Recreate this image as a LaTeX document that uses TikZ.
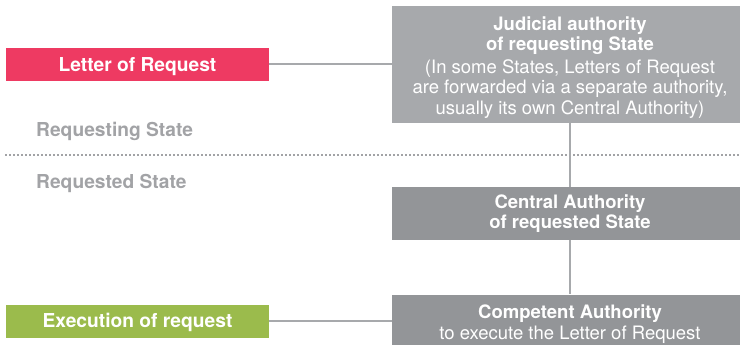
\documentclass[tikz,border=0pt]{standalone}
\usepackage{fontspec}
\setmainfont{TeX Gyre Heros}
\usepackage{xcolor}
\definecolor{lorpink}{HTML}{EE3A62}
\definecolor{execgreen}{HTML}{9BBB4C}
\definecolor{boxlight}{HTML}{A7A9AC}
\definecolor{boxdark}{HTML}{939598}
\definecolor{labelgray}{HTML}{A2A3A6}

\begin{document}
\begin{tikzpicture}[x=1pt,y=-1pt,
    every node/.style={font=\fontsize{18.5}{20.5}\selectfont, text=white, inner sep=0pt},
    side/.style={minimum width=263pt, minimum height=33pt, text height=13.8pt, text depth=0pt,
        font=\fontsize{19.2}{21}\selectfont\bfseries},
    authority/.style={fill=boxdark, minimum width=356pt, minimum height=53pt, align=center},
    statelabel/.style={anchor=base west, text=labelgray, font=\fontsize{19.2}{21}\selectfont\bfseries},
    link/.style={draw=boxlight, line width=2pt}]
    \useasboundingbox (0,0) rectangle (740,345);

    \node[side, fill=lorpink] (letter) at (137.5,64.5) {Letter of Request};
    \node[authority, fill=boxlight, minimum height=117pt] (judicial) at (570,64.5) {};
    \node[align=center] (judicialtext) at ([yshift=-3pt]judicial.center)
        {\textbf{Judicial authority}\\\textbf{of requesting State}\\[2pt]
         (In some States, Letters of Request\\are forwarded via a separate authority,\\usually its own Central Authority)};
    \node[authority] (central) at (570,213.5)
        {\textbf{Central Authority}\\\textbf{of requested State}};
    \node[authority] (competent) at (570,321) {};
    \node[align=center] (competenttext) at ([yshift=-3pt]competent.center)
        {\textbf{Competent Authority}\\to execute the Letter of Request};
    \node[side, fill=execgreen] (execution) at (137.5,321) {Execution of request};

    \node[statelabel] (requesting) at (36,136) {Requesting State};
    \node[statelabel] (requested) at (36,189) {Requested State};

    % border between the two States
    \coordinate (borderL) at (5,155);
    \coordinate (borderR) at (740,155);
    \draw[labelgray, line width=1.6pt, dash pattern=on 1.6pt off 2.4pt] (borderL) -- (borderR);

    \draw[link] (letter.east) -- (judicial.west);
    \draw[link] (judicial.south) -- (central.north);
    \draw[link] (central.south) -- (competent.north);
    \draw[link] (execution.east) -- (competent.west);

\end{tikzpicture}
\end{document}
